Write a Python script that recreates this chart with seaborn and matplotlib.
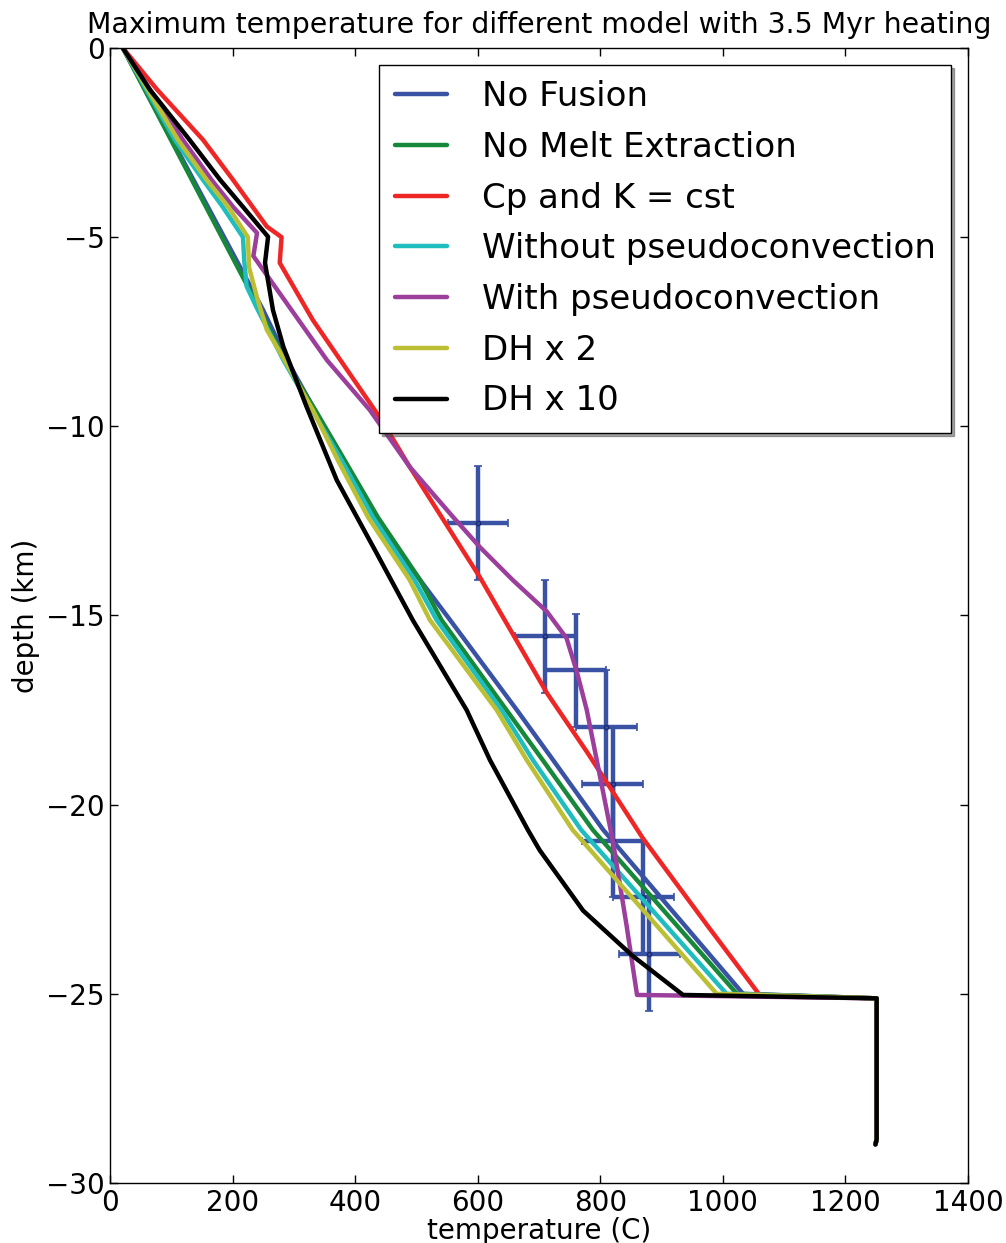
import matplotlib
matplotlib.use("Agg")
import matplotlib.pyplot as plt
import seaborn as sns

# ---------------- data ----------------
series_names = ["No Fusion", "No Melt Extraction", "Cp and K = cst",
                "Without pseudoconvection", "With pseudoconvection",
                "DH x 2", "DH x 10"]
series_colors = ["#3a52a4", "#17873a", "#ee2726", "#1fbdbd", "#9c3f9c", "#bcbf33", "#000000"]

tail_T = [1251, 1251, 1249]
tail_d = [-25.12, -28.85, -28.98]

nofusion_T = [21, 250, 289, 397, 473, 555, 664, 723, 805, 1033]
nofusion_d = [0, -6.93, -8.25, -11.42, -13.35, -15.12, -17.5, -18.82, -20.67, -25.0]

nomelt_T = [21, 245, 285, 335, 383, 437, 506, 541, 647, 706, 788, 1023]
nomelt_d = [0, -6.93, -8.25, -9.57, -10.9, -12.4, -14.06, -15.12, -17.5, -18.82, -20.67, -25.0]

cpk_T = [21, 77, 152, 201, 256, 280, 277, 331, 443, 489, 604, 644, 713, 778, 870, 975, 1060]
cpk_d = [0, -1.1, -2.43, -3.49, -4.72, -5.0, -5.68, -7.19, -9.83, -11.07, -14.0, -15.12, -17.05, -18.6, -20.9, -23.2, -25.03]

without_T = [21, 106, 152, 184, 217, 219, 223, 239, 283, 330, 378, 429, 497, 533, 639, 690, 769, 1006]
without_d = [0, -2.43, -3.49, -4.2, -5.0, -5.6, -6.3, -6.85, -8.25, -9.57, -10.9, -12.4, -14.06, -15.12, -17.5, -18.82, -20.67, -25.0]

with_T = [21, 119, 166, 201, 240, 234, 354, 424, 489, 560, 604, 657, 713, 745, 762, 778, 794, 821, 843, 860]
with_d = [0, -2.43, -3.49, -4.2, -4.89, -5.5, -8.25, -9.57, -11.07, -12.4, -13.2, -14.06, -14.9, -15.6, -16.5, -17.5, -18.8, -21.0, -23.2, -25.03]

dh2_T = [21, 111, 158, 193, 225, 227, 240, 256, 285, 331, 372, 421, 489, 522, 631, 680, 755, 990]
dh2_d = [0, -2.43, -3.49, -4.2, -5.0, -5.8, -6.6, -7.45, -8.25, -9.57, -10.9, -12.4, -14.06, -15.12, -17.5, -18.82, -20.67, -25.0]

dh10_T = [21, 65, 130, 180, 217, 258, 253, 266, 283, 321, 370, 435, 494, 582, 620, 682, 701, 772, 853, 935]
dh10_d = [0, -1.1, -2.43, -3.49, -4.2, -4.99, -5.68, -6.93, -7.9, -9.49, -11.42, -13.35, -15.12, -17.5, -18.82, -20.67, -21.2, -22.8, -24.0, -25.03]

obs_T = [600, 710, 760, 810, 820, 820, 870, 880]
obs_d = [-12.55, -15.55, -16.45, -17.95, -19.45, -20.95, -22.45, -23.95]
obs_Terr = [49, 49, 49, 50, 50, 50, 50, 50]
obs_derr = [1.5, 1.5, 1.5, 1.5, 1.5, 1.5, 1.5, 1.5]

x_ticks = [0, 200, 400, 600, 800, 1000, 1200, 1400]
y_ticks = [0, -5, -10, -15, -20, -25, -30]

# ---------------- plot ----------------
sns.set_theme(style="ticks")
plt.rcParams["font.family"] = ["DejaVu Sans"]
for k in ["text.color", "axes.labelcolor", "xtick.color", "ytick.color", "axes.edgecolor"]:
    plt.rcParams[k] = "black"

fig = plt.figure(figsize=(10.06, 12.43), dpi=100)
ax = fig.add_axes([0.1093, 0.0483, 0.8529, 0.9131])

ax.errorbar(obs_T, obs_d, xerr=obs_Terr, yerr=obs_derr, fmt="o", color="#3a52a4",
            ecolor="#3a52a4", elinewidth=3.2, capsize=3, capthick=1.2,
            markersize=3, markeredgecolor="#1c2a70", zorder=1)

all_T = [nofusion_T, nomelt_T, cpk_T, without_T, with_T, dh2_T, dh10_T]
all_d = [nofusion_d, nomelt_d, cpk_d, without_d, with_d, dh2_d, dh10_d]
for name, col, T, d in zip(series_names, series_colors, all_T, all_d):
    sns.lineplot(x=list(T) + tail_T, y=list(d) + tail_d, sort=False, estimator=None,
                 color=col, linewidth=3.2, label=name, ax=ax, zorder=2)

ax.set_xlim(0, 1400)
ax.set_ylim(-30, 0)
ax.set_xticks(x_ticks)
ax.set_yticks(y_ticks)
ax.tick_params(axis="both", which="both", direction="in", top=True, right=True,
               length=6, width=1, labelsize=20, pad=4, colors="black")
for s in ax.spines.values():
    s.set_color("black")
    s.set_linewidth(1.0)

ax.set_title("Maximum temperature for different model with 3.5 Myr heating",
             fontsize=20.4, pad=11, color="black")
ax.set_xlabel("temperature (C)", fontsize=20, labelpad=0, color="black")
ax.set_ylabel("depth (km)", fontsize=20, labelpad=4, color="black")

leg = ax.legend(loc="upper right", fontsize=24.5, frameon=True, shadow=True,
                fancybox=False, handlelength=1.53, handletextpad=1.03,
                labelspacing=0.52, borderaxespad=0.5, borderpad=0.45)
leg.get_frame().set_edgecolor("black")
leg.get_frame().set_linewidth(1.0)
leg.get_frame().set_alpha(1.0)
for line in leg.get_lines():
    line.set_linewidth(3.2)
for t in leg.get_texts():
    t.set_color("black")

fig.savefig("out.png", dpi=100)
